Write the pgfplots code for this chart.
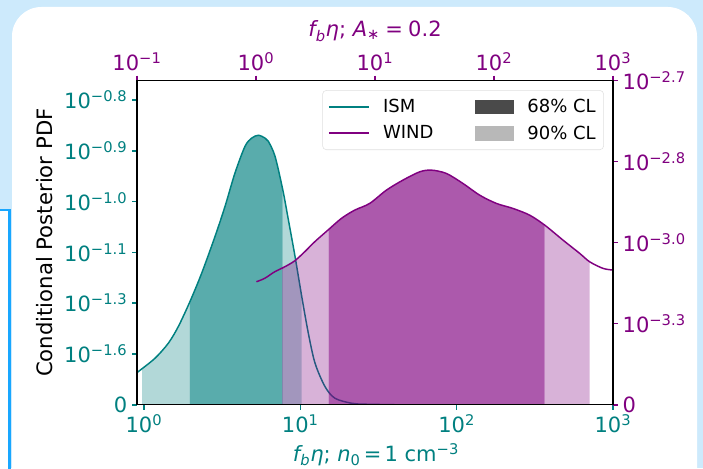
\documentclass[border=0pt]{standalone}
\usepackage{fontspec}
\setmainfont{DejaVu Sans}
\usepackage{pgfplots}
\pgfplotsset{compat=1.18}
\definecolor{cteal}{RGB}{0,128,128}
\definecolor{cpurp}{RGB}{128,0,128}
\definecolor{bgblue}{RGB}{205,234,252}
\definecolor{boxblue}{RGB}{25,167,255}
\definecolor{c68}{RGB}{74,74,74}
\definecolor{c90}{RGB}{184,184,184}
\newcommand{\tp}[1]{10\textsuperscript{#1}}
\newcommand{\tkfont}{\fontsize{15.75}{18}\selectfont}

\begin{document}
\begin{tikzpicture}
\path[use as bounding box] (0,0) rectangle (527.25pt,351pt);
\clip (0,0) rectangle (527.25pt,351pt);
\fill[bgblue] (0,0) rectangle (527.25pt,351pt);
\fill[white, rounded corners=22pt] (9pt,-40pt) rectangle (522.75pt,345.75pt);
\filldraw[fill=white, draw=boxblue, line width=1.9pt] (-20pt,-20pt) rectangle (7pt,193.5pt);

% ---------------- ISM axis (bottom / left)
\begin{axis}[
  at={(102.75pt,47.475pt)}, anchor=south west,
  scale only axis, width=357pt, height=243pt,
  xmode=log, xmin=0.902, xmax=1000, ymin=0, ymax=6.38,
  xtick={1,10,100,1000}, xticklabels={\tp{0},\tp{1},\tp{2},\tp{3}},
  ytick={0,1,2,3,4,5,6},
  yticklabels={0,\tp{−1.6},\tp{−1.3},\tp{−1.1},\tp{−1.0},\tp{−0.9},\tp{−0.8}},
  xminorticks=false, yminorticks=false,
  xtick pos=left, ytick pos=left,
  tick align=outside, major tick length=3.75pt,
  major tick style={cteal, line width=1.2pt},
  ticklabel style={font=\tkfont, text=cteal},
  axis line style={line width=1.1pt},
]
\addplot[fill=cteal, fill opacity=0.3, draw=none, smooth] coordinates {
 (0.971,0.71) (1.176,0.915) (1.431,1.211) (1.657,1.538) (1.969,2.032)} \closedcycle;
\addplot[fill=cteal, fill opacity=0.65, draw=none, smooth] coordinates {
 (1.969,2.032) (2.340,2.592) (2.847,3.314) (3.298,3.905) (3.821,4.564) (4.429,5.089)
 (4.887,5.25) (5.386,5.306) (5.945,5.25) (6.242,5.187) (6.889,4.892) (7.7,4.24)} \closedcycle;
\addplot[fill=cteal, fill opacity=0.3, draw=none, smooth] coordinates {
 (7.7,4.24) (8.382,3.643) (9.250,2.919) (10.21,2.130)} \closedcycle;
\addplot[cteal, line width=1.1pt, smooth] coordinates {
 (0.902,0.63) (0.919,0.651) (1.176,0.915) (1.431,1.211) (1.657,1.538) (1.969,2.032)
 (2.340,2.592) (2.847,3.314) (3.298,3.905) (3.821,4.564) (4.429,5.089)
 (4.887,5.25) (5.386,5.306) (5.945,5.25) (6.242,5.187) (6.889,4.892) (7.718,4.235)
 (8.382,3.643) (9.250,2.919) (10.21,2.130) (11.25,1.408) (12.42,0.817) (14.39,0.355)
 (16.67,0.126) (21.33,0.028) (25.94,0.010) (40,0.0)};
\end{axis}

% ---------------- WIND axis (top / right)
\begin{axis}[
  at={(102.75pt,47.475pt)}, anchor=south west,
  scale only axis, width=357pt, height=243pt,
  xmode=log, xmin=0.1, xmax=1000, ymin=0, ymax=4,
  xtick={0.1,1,10,100,1000}, xticklabels={\tp{−1},\tp{0},\tp{1},\tp{2},\tp{3}},
  ytick={0,1,2,3,4},
  yticklabels={0,\tp{−3.3},\tp{−3.0},\tp{−2.8},\tp{−2.7}},
  xminorticks=false, yminorticks=false,
  xtick pos=right, xticklabel pos=right, ytick pos=right, yticklabel pos=right,
  tick align=outside, major tick length=3.75pt,
  major tick style={cpurp, line width=1.2pt},
  ticklabel style={font=\tkfont, text=cpurp},
  axis line style={line width=1.1pt},
  axis on top,
  legend columns=2,
  legend cell align=left,
  legend style={at={(0.981,0.971)}, anchor=north east, draw=black!12, rounded corners=3pt,
    fill=white, font=\fontsize{13.5}{16}\selectfont,
    /tikz/every odd column/.append style={column sep=8pt},
    /tikz/every even column/.append style={column sep=29.5pt},
    inner xsep=4pt, inner ysep=4.5pt, row sep=4.5pt},
]
\addplot[fill=cpurp, fill opacity=0.3, draw=none, smooth, forget plot] coordinates {
 (1.66,1.687) (1.742,1.702) (2.115,1.776) (2.566,1.888) (3.113,2.011) (4.08,2.162)} \closedcycle;
\addplot[fill=cpurp, fill opacity=0.65, draw=none, smooth, forget plot] coordinates {
 (4.08,2.162) (5.221,2.300) (6.752,2.402) (9.027,2.485) (12.47,2.649) (17.19,2.773)
 (23.75,2.875) (29.78,2.896) (39.81,2.855) (54.9,2.731) (75.8,2.587) (104.7,2.485)
 (144.4,2.423) (199.5,2.340) (266.8,2.217)} \closedcycle;
\addplot[fill=cpurp, fill opacity=0.3, draw=none, smooth, forget plot] coordinates {
 (266.8,2.217) (380.0,2.032) (525.0,1.868) (637.2,1.764)} \closedcycle;
\addplot[cpurp, line width=1.1pt, smooth, forget plot] coordinates {
 (1.008,1.518) (1.183,1.560) (1.436,1.641) (1.742,1.702) (2.115,1.776) (2.566,1.888)
 (3.113,2.011) (4.027,2.156) (5.221,2.300) (6.752,2.402) (9.027,2.485) (12.47,2.649)
 (17.19,2.773) (23.75,2.875) (29.78,2.896) (39.81,2.855) (54.9,2.731) (75.8,2.587)
 (104.7,2.485) (144.4,2.423) (199.5,2.340) (266.8,2.217) (380.0,2.032) (525.0,1.868)
 (637.2,1.764) (824.1,1.683) (1000,1.662)};
\addlegendimage{legend image code/.code={\draw[cteal, line width=1.4pt, sharp corners] (0pt,0pt) -- (30pt,0pt);}}
\addlegendentry{ISM}
\addlegendimage{legend image code/.code={\fill[c68, sharp corners] (0pt,-5pt) rectangle (28.5pt,5pt);}}
\addlegendentry{68\% CL}
\addlegendimage{legend image code/.code={\draw[cpurp, line width=1.4pt, sharp corners] (0pt,0pt) -- (30pt,0pt);}}
\addlegendentry{WIND}
\addlegendimage{legend image code/.code={\fill[c90, sharp corners] (0pt,-5pt) rectangle (28.5pt,5pt);}}
\addlegendentry{90\% CL}
\end{axis}

\node[anchor=base, font=\tkfont, text=cpurp] at (281.25pt,323.25pt)
  {{\itshape f}\textsubscript{\itshape b}{\itshape η}; {\itshape A}\textsubscript{∗}\hspace{0.25em}=\hspace{0.25em}0.2};
\node[anchor=base, font=\tkfont, text=cteal] at (282pt,5pt)
  {{\itshape f}\textsubscript{\itshape b}{\itshape η}; {\itshape n}\textsubscript{0}\hspace{0.15em}=\hspace{0.15em}1 cm\textsuperscript{−3}};
\node[rotate=90, anchor=base, font=\fontsize{15.9}{19}\selectfont] at (39pt,169pt)
  {Conditional Posterior PDF};
\end{tikzpicture}
\end{document}
